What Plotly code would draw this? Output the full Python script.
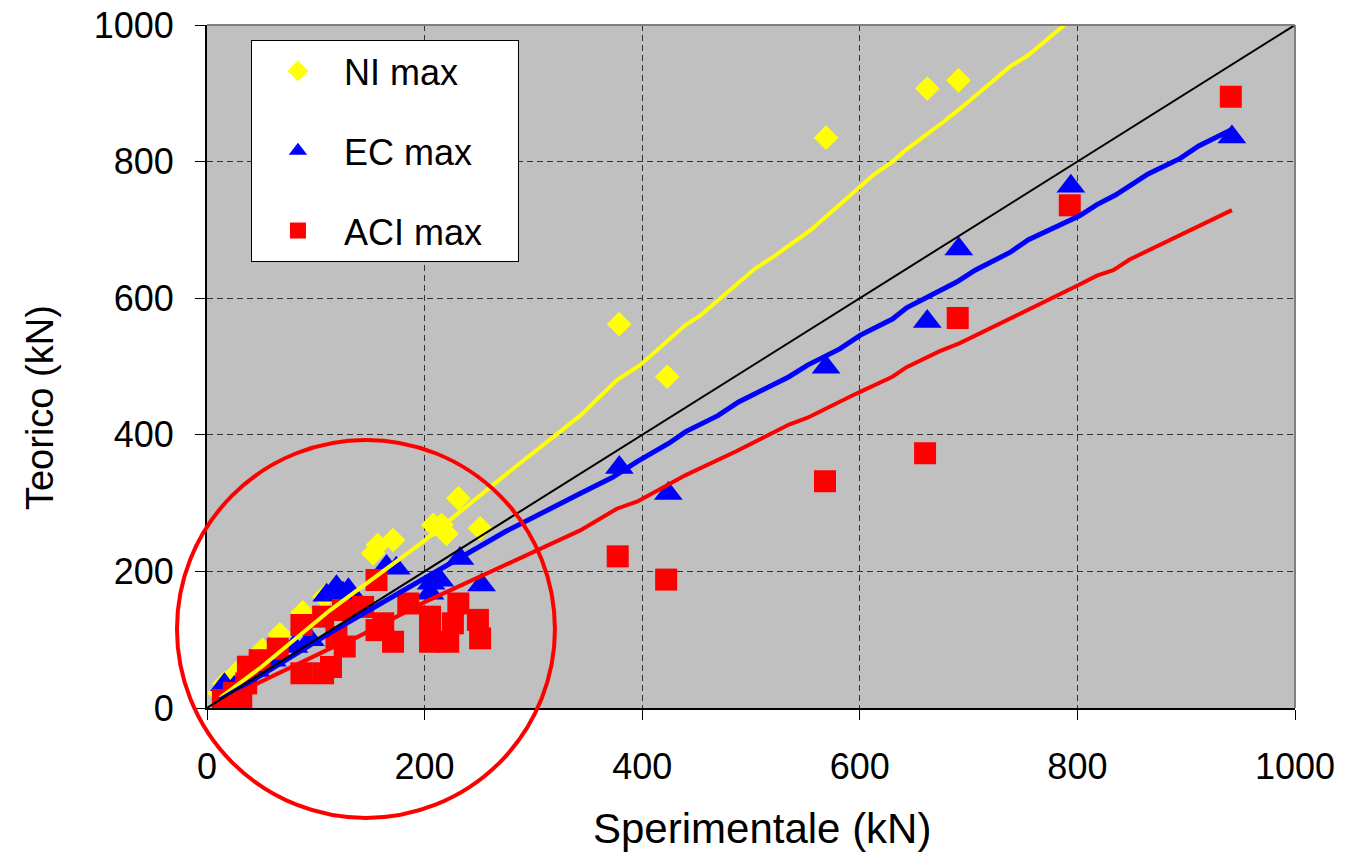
import plotly.graph_objects as go

# ---- data (kN) ----
ni_x = [11.6, 16, 27, 36, 51, 67, 88, 108, 119, 152.7, 157, 171, 208, 215.6, 231, 251, 220,
        378.8, 423, 569, 662, 690.7]
ni_y = [22, 36, 51, 58.5, 85, 108, 140, 163, 174, 226.5, 238.6, 246, 268, 268, 307, 263, 255,
        562, 485, 835, 907, 919]

ec_x = [16, 25, 45, 60, 80, 95, 110, 119, 125, 130, 165, 174, 205, 206, 214, 232.5, 252.4,
        379, 424, 569, 662, 691, 794, 942]
ec_y = [34, 30, 55, 70, 90, 100, 165, 177.6, 168, 173, 207, 204.5, 168, 182.6, 187, 219, 180,
        352, 314, 499, 566, 672, 764, 836]

aci_x = [14.6, 24.7, 31.5, 36, 37.6, 48.4, 65, 86.8, 86.8, 106.7, 106.7, 114, 119, 126.6, 125,
         143.5, 155.8, 155.8, 162, 171, 185, 205, 205, 205, 221.7, 226, 231, 249, 251,
         377.5, 422, 568, 660, 690, 793, 941]
aci_y = [11.7, 22, 11.7, 36, 60.5, 70, 87, 50.8, 121.5, 50.8, 133.7, 60, 104, 90, 143.5,
         148, 187.4, 114, 124, 97, 153, 133.7, 97, 114, 97, 124, 153, 129, 102,
         222, 188, 332, 373, 571, 736, 895]

ni_line_x = [12, 50, 113, 200, 274, 343, 376.7, 398, 440, 453, 503.5, 520, 555, 567, 613, 630,
             643, 676.7, 693, 738, 755, 788, 800]
ni_line_y = [15, 60, 143, 245, 341, 428, 480, 502, 561, 574, 643, 660, 700, 717, 781, 800,
             818, 858, 878.6, 939, 956, 1000, 1015]

ec_line_x = [12, 50, 113, 200, 274, 343, 372.4, 395.7, 425, 440, 469.6, 488.6, 535, 552, 581.6,
             600.6, 630, 643, 689, 706, 738, 755, 802, 818, 835, 865, 894.5, 911.5, 942]
ec_line_y = [12, 48, 110, 190, 258, 314, 337.5, 361, 388, 404.7, 428, 448, 485, 502, 525.7,
             546, 569.5, 586, 623.6, 641, 667, 685.6, 720.6, 737, 751, 782, 804.7, 823, 847]

aci_line_x = [12, 28, 113, 136, 200, 274, 343, 376.7, 395.7, 440, 486.5, 535, 552, 596.4, 630,
              643, 673.5, 691.5, 738, 802, 818, 833, 848, 892, 942]
aci_line_y = [8, 22, 87, 102, 155, 210, 260, 291.8, 302.5, 341, 376, 415, 425, 460, 485,
              499, 522.5, 533.8, 569.5, 620, 633, 641, 656.7, 690, 729]

ref_x = [0, 1000]
ref_y = [0, 1000]

tick_vals = [0, 200, 400, 600, 800, 1000]
tick_text = ["0", "200", "400", "600", "800", "1000"]

FONT = "Liberation Sans, Arial, sans-serif"

fig = go.Figure()

fig.add_trace(go.Scatter(x=ni_x, y=ni_y, mode="markers", name="NI max", legendgroup="a",
                         marker=dict(symbol="diamond", size=19, color="#FFFF00", line=dict(width=0))))
fig.add_trace(go.Scatter(x=ec_x, y=ec_y, mode="markers", name="EC max", legendgroup="b",
                         marker=dict(symbol="triangle-up", size=25, color="#0000FF", line=dict(width=0))))
fig.add_trace(go.Scatter(x=aci_x, y=aci_y, mode="markers", name="ACI max\u00a0\u00a0\u00a0",
                         legendgroup="c",
                         marker=dict(symbol="square", size=22, color="#FF0000", line=dict(width=0))))

fig.add_trace(go.Scatter(x=ni_line_x, y=ni_line_y, mode="lines", showlegend=False,
                         line=dict(color="#FFFF00", width=4)))
fig.add_trace(go.Scatter(x=ec_line_x, y=ec_line_y, mode="lines", showlegend=False,
                         line=dict(color="#0000FF", width=5)))
fig.add_trace(go.Scatter(x=aci_line_x, y=aci_line_y, mode="lines", showlegend=False,
                         line=dict(color="#FF0000", width=4)))
fig.add_trace(go.Scatter(x=ref_x, y=ref_y, mode="lines", showlegend=False,
                         line=dict(color="#000000", width=2)))

axis_common = dict(
    range=[0, 1000], tickvals=tick_vals, ticktext=tick_text,
    showgrid=True, gridcolor="#333333", gridwidth=1, griddash="6px,4px",
    zeroline=False, showline=True, linecolor="#000000", linewidth=2,
    ticks="outside", ticklen=10, tickcolor="#000000",
    tickfont=dict(family=FONT, size=36, color="#000000"),
    automargin=False, ticklabeloverflow="allow",
)

fig.update_layout(
    width=1348, height=856,
    margin=dict(l=207, r=53, t=25, b=148, autoexpand=False),
    paper_bgcolor="#FFFFFF", plot_bgcolor="#C0C0C0",
    xaxis=dict(**axis_common, ticklabelstandoff=16),
    yaxis=dict(**axis_common, ticklabelstandoff=14),
    showlegend=True,
    legend=dict(x=0.0404, y=0.978, xanchor="left", yanchor="top",
                bgcolor="#FFFFFF", bordercolor="#000000", borderwidth=1,
                font=dict(family=FONT, size=36, color="#000000"),
                itemwidth=82, tracegroupgap=30, itemsizing="trace"),
    shapes=[
        dict(type="line", xref="paper", yref="paper", x0=0, x1=1, y0=1, y1=1,
             line=dict(color="#808080", width=2), layer="above"),
        dict(type="line", xref="paper", yref="paper", x0=1, x1=1, y0=0, y1=1,
             line=dict(color="#808080", width=2), layer="above"),
        dict(type="circle", xref="paper", yref="paper",
             x0=-0.0276, x1=0.3198, y0=-0.161, y1=0.3924,
             line=dict(color="#FF0000", width=4), layer="above"),
    ],
    annotations=[
        dict(text="Sperimentale (kN)", xref="paper", yref="paper", x=0.51, y=-0.176,
             xanchor="center", yanchor="middle", showarrow=False,
             font=dict(family=FONT, size=42, color="#000000")),
        dict(text="Teorico (kN)", xref="paper", yref="paper", x=-0.153, y=0.44,
             xanchor="center", yanchor="middle", showarrow=False, textangle=-90,
             font=dict(family=FONT, size=38, color="#000000")),
    ],
)

fig.write_html("out.html",
               config={"displayModeBar": False},
               post_script="document.body.style.margin='0px';document.body.style.overflow='hidden';")
